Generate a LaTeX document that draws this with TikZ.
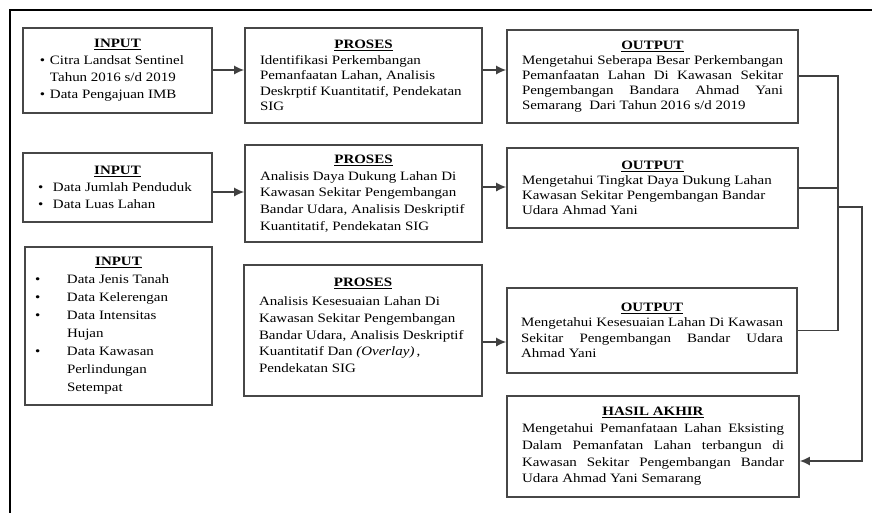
\documentclass[tikz,border=0pt]{standalone}
\usepackage{fontspec}
\setmainfont[FakeStretch=1.17]{Liberation Serif}
\usetikzlibrary{arrows.meta}
\newcommand{\boxhead}[1]{\spaceskip=0pt\xspaceskip=0pt\makebox[\linewidth]{\textbf{\underline{#1}}}}
\newcommand{\jline}[1]{\makebox[\linewidth][s]{\spaceskip=0pt\xspaceskip=0pt #1}}
\newcommand{\bul}[1]{\makebox[#1][l]{\textbullet}}
\begin{document}
\begin{tikzpicture}[x=1pt,y=-1pt,
  box/.style={draw=black!72, line width=1.6pt, align=left, inner ysep=0pt, anchor=center},
  arr/.style={draw=black!75, line width=1.5pt, -{Latex[length=10pt,width=9pt]}},
  ln/.style={draw=black!75, line width=1.5pt}]
\useasboundingbox (0,0) rectangle (872,512);
\fill[white] (0,0) rectangle (872,512);
\draw[line width=2.6pt] (10,514) -- (10,10) -- (874,10);

% INPUT column
\node[box, minimum width=189pt, minimum height=85pt, inner xsep=17pt, text width=155pt,
  font=\fontsize{12.8}{17}\selectfont] (in1) at (117.5,70.5)
  {\boxhead{INPUT}\\ \bul{10pt}Citra Landsat Sentinel\\ \hspace*{10pt}Tahun 2016 s/d 2019\\ \bul{10pt}Data Pengajuan IMB};
\node[box, minimum width=189pt, minimum height=69pt, inner xsep=15pt, text width=159pt,
  font=\fontsize{12.8}{16.7}\selectfont] (in2) at (117.5,187.5)
  {\boxhead{INPUT}\\ \bul{15pt}Data Jumlah Penduduk\\ \bul{15pt}Data Luas Lahan};
\node[box, minimum width=187pt, minimum height=158pt, inner xsep=10pt, text width=167pt,
  font=\fontsize{12.8}{18}\selectfont] (in3) at (118.5,326)
  {\boxhead{INPUT}\\ \bul{32pt}Data Jenis Tanah\\ \bul{32pt}Data Kelerengan\\ \bul{32pt}Data Intensitas\\ \hspace*{32pt}Hujan\\ \bul{32pt}Data Kawasan\\ \hspace*{32pt}Perlindungan\\ \hspace*{32pt}Setempat};

% PROSES column
\node[box, minimum width=237pt, minimum height=95pt, inner xsep=15pt, text width=207pt,
  font=\fontsize{12.8}{15.5}\selectfont] (pr1) at (363.5,75.5)
  {\boxhead{PROSES}\\ Identifikasi Perkembangan\\ Pemanfaatan Lahan, Analisis\\ Deskrptif Kuantitatif, Pendekatan\\ SIG};
\node[box, minimum width=237pt, minimum height=97pt, inner xsep=15pt, text width=207pt,
  font=\fontsize{12.8}{16.7}\selectfont] (pr2) at (363.5,193.5)
  {\boxhead{PROSES}\\ Analisis Daya Dukung Lahan Di\\ Kawasan Sekitar Pengembangan\\ Bandar Udara, Analisis Deskriptif\\ Kuantitatif, Pendekatan SIG};
\node[box, minimum width=238pt, minimum height=131pt, inner xsep=15pt, text width=208pt,
  font=\fontsize{12.8}{16.7}\selectfont] (pr3) at (363,330.5)
  {\boxhead{PROSES}\\[2pt] Analisis Kesesuaian Lahan Di\\ Kawasan Sekitar Pengembangan\\ Bandar Udara, Analisis Deskriptif\\ Kuantitatif Dan \textit{(Overlay)}\,,\\ Pendekatan SIG\\[-6.7pt]\mbox{}};

% OUTPUT column
\node[box, minimum width=291pt, minimum height=93pt, inner xsep=15pt, text width=261pt,
  font=\fontsize{12.8}{15}\selectfont] (out1) at (652.5,76.5)
  {\boxhead{OUTPUT}\\ \jline{Mengetahui Seberapa Besar Perkembangan}\\ \jline{Pemanfaatan Lahan Di Kawasan Sekitar}\\ \jline{Pengembangan Bandara Ahmad Yani}\\ Semarang\ \ Dari Tahun 2016 s/d 2019};
\node[box, minimum width=291pt, minimum height=80pt, inner xsep=15pt, text width=261pt,
  font=\fontsize{12.8}{15}\selectfont] (out2) at (652.5,188)
  {\boxhead{OUTPUT}\\ Mengetahui Tingkat Daya Dukung Lahan\\ Kawasan Sekitar Pengembangan Bandar\\ Udara Ahmad Yani};
\node[box, minimum width=290pt, minimum height=85pt, inner xsep=14pt, text width=262pt,
  font=\fontsize{12.8}{15.5}\selectfont] (out3) at (652,330.5)
  {\boxhead{OUTPUT}\\ \jline{Mengetahui Kesesuaian Lahan Di Kawasan}\\ \jline{Sekitar Pengembangan Bandar Udara}\\ Ahmad Yani};
\node[box, minimum width=292pt, minimum height=101pt, inner xsep=15pt, text width=262pt,
  font=\fontsize{12.8}{16.7}\selectfont] (hasil) at (653,446.5)
  {\boxhead{HASIL AKHIR}\\ \jline{Mengetahui Pemanfataan Lahan Eksisting}\\ \jline{Dalam Pemanfatan Lahan terbangun di}\\ \jline{Kawasan Sekitar Pengembangan Bandar}\\ Udara Ahmad Yani Semarang};

% arrows
\draw[arr] (in1.east |- 0,70) -- (pr1.west |- 0,70);
\draw[arr] (pr1.east |- 0,70) -- (out1.west |- 0,70);
\draw[arr] (in2.east |- 0,192) -- (pr2.west |- 0,192);
\draw[arr] (pr2.east |- 0,187) -- (out2.west |- 0,187);
\draw[arr] (pr3.east |- 0,342) -- (out3.west |- 0,342);

% right-hand connectors
\coordinate (j1) at (838,76);
\coordinate (j2) at (838,188);
\coordinate (j3) at (838,207);
\coordinate (j4) at (862,207);
\draw[ln] (out1.east |- j1) -- (j1) -- (838,330.5) -- (out3.east);
\draw[ln] (out2.east) -- (j2);
\draw[arr] (j3) -- (j4) -- (862,461) -- (hasil.east |- 0,461);
\end{tikzpicture}
\end{document}
